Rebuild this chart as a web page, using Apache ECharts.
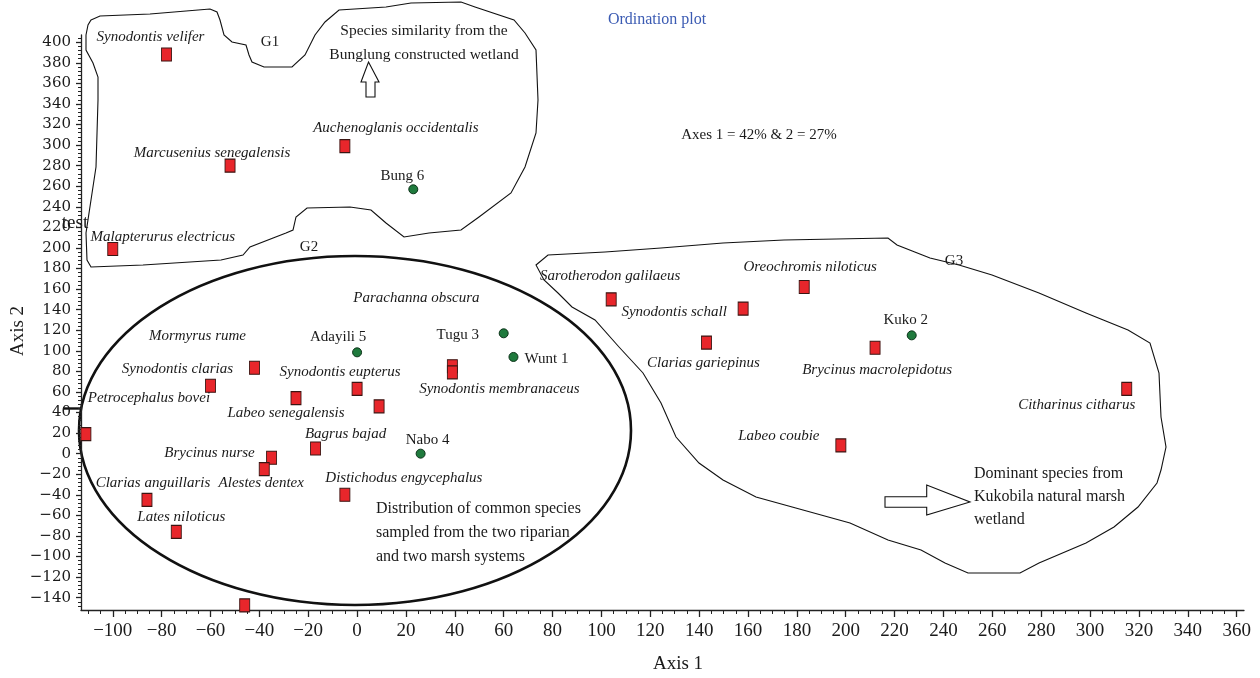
<!DOCTYPE html>
<html>
<head>
<meta charset="utf-8">
<title>Ordination plot</title>
<script src="https://cdn.jsdelivr.net/npm/echarts@6.0.0/dist/echarts.min.js"></script>
<style>
    html, body { margin: 0; padding: 0; background: #fff; }
    #chart { width: 1260px; height: 678px; }
</style>
</head>
<body>
<div id="chart"></div>
<script>
// species scores (red squares)
var speciesNames = [
    'Synodontis velifer', 'Marcusenius senegalensis', 'Auchenoglanis occidentalis', 'Malapterurus electricus',
    'Parachanna obscura', 'Synodontis membranaceus', 'Mormyrus rume', 'Synodontis clarias',
    'Petrocephalus bovei', 'Labeo senegalensis', 'Synodontis eupterus', '',
    'Bagrus bajad', 'Brycinus nurse', 'Alestes dentex', 'Clarias anguillaris',
    'Distichodus engycephalus', 'Lates niloticus', '',
    'Sarotherodon galilaeus', 'Oreochromis niloticus', 'Synodontis schall', 'Clarias gariepinus',
    'Brycinus macrolepidotus', 'Citharinus citharus', 'Labeo coubie'
];
var speciesAxis1 = [-78, -52, -5, -100, 39, 39, -42, -60, -111, -25, 0, 9, -17, -35, -38, -86, -5, -74, -46, 104, 183, 158, 143, 212, 315, 198];
var speciesAxis2 = [388, 280, 299, 199, 85, 79, 83.5, 66, 19, 54, 63, 46, 5, -4, -15, -45, -40, -76, -147.5, 150, 162, 141, 108, 103, 63, 8];

// sampling sites (green dots)
var siteNames = ['Bung 6', 'Adayili 5', 'Tugu 3', 'Wunt 1', 'Nabo 4', 'Kuko 2'];
var siteAxis1 = [23, 0, 60, 64, 26, 227];
var siteAxis2 = [257, 98.5, 117, 94, 0, 115];

// tick labels
var xTickValues = [-100, -80, -60, -40, -20, 0, 20, 40, 60, 80, 100, 120, 140, 160, 180, 200, 220, 240, 260, 280, 300, 320, 340, 360];
var yTickValues = [-140, -120, -100, -80, -60, -40, -20, 0, 20, 40, 60, 80, 100, 120, 140, 160, 180, 200, 220, 240, 260, 280, 300, 320, 340, 360, 380, 400];

// where each label sits relative to its marker (px)
var speciesLabelOffsets = [
    [-16, -17], [-18, -13], [51, -18], [50, -12],
    [-36, -68], [47, 17], [-57, -32], [-33, -17],
    [63, -36], [-10, 15], [-17, -17], [0, 0],
    [30, -14], [-62, -5], [-3, 14], [6, -17],
    [59, -17], [5, -15], [0, 0],
    [-1, -23], [6, -20], [-69, 3], [-3, 21],
    [2, 22], [-50, 16], [-62, -9]
];
var siteLabelOffsets = [[-11, -13], [-19, -15], [-46, 2], [33, 2], [7, -14], [-6, -15]];

var xMinor = [], yMinor = [];
for (var v = -110; v <= 360; v += 5) xMinor.push(v);
for (var w = -148; w <= 404; w += 4) yMinor.push(w);

var serif = '"Liberation Serif", "Times New Roman", serif';

function minus(val) {
    return String(val).replace('-', '\u2212');
}

var speciesData = speciesNames.map(function (n, i) {
    return {
        name: n,
        value: [speciesAxis1[i], speciesAxis2[i]],
        label: { offset: speciesLabelOffsets[i] }
    };
});
var siteData = siteNames.map(function (n, i) {
    return {
        name: n,
        value: [siteAxis1[i], siteAxis2[i]],
        label: { offset: siteLabelOffsets[i] }
    };
});

// hand drawn group outlines, in px
var g1Outline = [[91,20],[100,16],[150,14],[210,9],[217,12],[220,20],[224,35],[232,42],[246,45],[249,55],[252,62],[264,67],[292,67],[305,55],[315,35],[325,22],[339,10],[386,7],[411,3],[461,2],[475,7],[514,20],[525,33],[536,50],[538,100],[536,133],[525,167],[511,193],[479,217],[461,230],[429,233],[404,237],[386,223],[371,210],[350,207],[307,208],[296,217],[293,230],[286,233],[250,247],[243,255],[221,260],[143,265],[91,267],[87,260],[86,233],[91,200],[96,167],[98,100],[98,77],[93,63],[86,50],[86,35],[88,25]];
var g3Outline = [[536,265],[548,255],[605,252],[661,248],[723,243],[784,240],[888,238],[897,245],[930,258],[959,265],[992,275],[1039,293],[1086,313],[1128,330],[1150,343],[1159,373],[1161,417],[1166,447],[1161,470],[1157,483],[1138,507],[1114,527],[1086,543],[1039,563],[1020,573],[968,573],[945,563],[921,550],[888,540],[850,523],[803,510],[756,497],[723,480],[699,463],[676,437],[661,403],[643,373],[619,347],[595,320],[572,307],[558,293],[544,280]];

function txt(s, x, y, size, opts) {
    opts = opts || {};
    return {
        type: 'text', x: x, y: y, silent: true, rotation: opts.rotation || 0,
        style: {
            text: s,
            font: (opts.italic ? 'italic ' : '') + size + 'px ' + serif,
            fill: opts.color || '#1a1a1a',
            align: opts.align || 'center',
            verticalAlign: 'middle'
        }
    };
}

var chart = echarts.init(document.getElementById('chart'));
var option = {
    animation: false,
    backgroundColor: '#fff',
    grid: { left: 81, right: 16, top: 35, bottom: 68 },
    xAxis: [
        {
            type: 'value', min: -113, max: 363, position: 'bottom',
            splitLine: { show: false },
            axisLine: { show: true, onZero: false, lineStyle: { color: '#222', width: 1.3 } },
            axisTick: { show: true, customValues: xTickValues, length: 7, lineStyle: { color: '#222', width: 1.3 } },
            axisLabel: { customValues: xTickValues, formatter: minus, color: '#1a1a1a', fontFamily: serif, fontSize: 19, margin: 12 }
        },
        {
            type: 'value', min: -113, max: 363, position: 'bottom',
            splitLine: { show: false },
            axisLine: { show: false, onZero: false },
            axisTick: { show: true, customValues: xMinor, length: 4, lineStyle: { color: '#222', width: 1 } },
            axisLabel: { show: false }
        }
    ],
    yAxis: [
        {
            type: 'value', min: -152, max: 407, position: 'left',
            splitLine: { show: false },
            axisLine: { show: true, onZero: false, lineStyle: { color: '#222', width: 1.3 } },
            axisTick: { show: true, customValues: yTickValues, length: 5, lineStyle: { color: '#222', width: 1.3 } },
            axisLabel: { customValues: yTickValues, formatter: minus, color: '#1a1a1a', fontFamily: '"DejaVu Serif", serif', fontSize: 15, margin: 10 }
        },
        {
            type: 'value', min: -152, max: 407, position: 'left',
            splitLine: { show: false },
            axisLine: { show: false, onZero: false },
            axisTick: { show: true, customValues: yMinor, length: 3, lineStyle: { color: '#222', width: 1 } },
            axisLabel: { show: false }
        }
    ],
    series: [
        {
            name: 'species',
            type: 'scatter',
            symbol: 'rect',
            symbolSize: [10, 13],
            itemStyle: { color: '#e8262b', borderColor: '#3a1512', borderWidth: 1, opacity: 1 },
            label: {
                show: true, position: 'inside', formatter: '{b}',
                fontFamily: serif, fontStyle: 'italic', fontSize: 15, color: '#1a1a1a'
            },
            data: speciesData,
            z: 5
        },
        {
            name: 'sites',
            type: 'scatter',
            symbol: 'circle',
            symbolSize: 9,
            itemStyle: { color: '#1f7a3d', borderColor: '#0c3319', borderWidth: 1, opacity: 1 },
            label: {
                show: true, position: 'inside', formatter: '{b}',
                fontFamily: serif, fontSize: 15, color: '#1a1a1a'
            },
            data: siteData,
            z: 5
        }
    ],
    graphic: [
        { type: 'polygon', silent: true, shape: { points: g1Outline }, style: { fill: 'none', stroke: '#111', lineWidth: 1.1 } },
        { type: 'polygon', silent: true, shape: { points: g3Outline }, style: { fill: 'none', stroke: '#111', lineWidth: 1.1 } },
        { type: 'ellipse', silent: true, shape: { cx: 355, cy: 430.5, rx: 276, ry: 174.5 }, style: { fill: 'none', stroke: '#111', lineWidth: 2.6 } },
        // arrows
        { type: 'polygon', silent: true, shape: { points: [[368.5,62],[379,82],[375,82],[375,97],[366,97],[366,82],[361,82]] }, style: { fill: '#fff', stroke: '#111', lineWidth: 1.1 } },
        { type: 'polygon', silent: true, shape: { points: [[885,496.7],[926.7,496.7],[926.7,485],[970,502],[926.7,515],[926.7,507.3],[885,507.3]] }, style: { fill: '#fff', stroke: '#111', lineWidth: 1.1 } },
        // stray tick line near the 40 label
        { type: 'line', silent: true, shape: { x1: 63, y1: 408.5, x2: 81, y2: 408.5 }, style: { stroke: '#111', lineWidth: 2.4 } },
        txt('Ordination plot', 657, 20, 16, { color: '#3b5bb3' }),
        txt('Axes 1 = 42% & 2 = 27%', 759, 135, 15),
        txt('Species similarity from the', 424, 31, 15.5),
        txt('Bunglung constructed wetland', 424, 55, 15.5),
        txt('G1', 270, 42, 15),
        txt('G2', 309, 247, 15),
        txt('G3', 954, 261, 15),
        txt('test', 75, 223, 19),
        txt('Distribution of common species', 376, 509, 16, { align: 'left' }),
        txt('sampled from the two riparian', 376, 533, 16, { align: 'left' }),
        txt('and two marsh systems', 376, 557, 16, { align: 'left' }),
        txt('Dominant species from', 974, 474, 16, { align: 'left' }),
        txt('Kukobila natural marsh', 974, 497, 16, { align: 'left' }),
        txt('wetland', 974, 520, 16, { align: 'left' }),
        txt('Axis 1', 678, 664, 19),
        txt('Axis 2', 18, 331, 19, { rotation: Math.PI / 2 })
    ]
};
chart.setOption(option);
window.onresize = function () {
    chart.resize();
};
</script>
</body>
</html>
